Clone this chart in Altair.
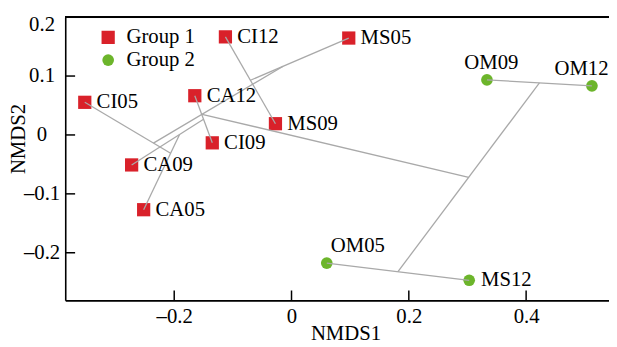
import altair as alt
import pandas as pd

# ---- data ----
names = ["CI12", "MS05", "CI05", "CA12", "MS09", "CI09", "CA09", "CA05",
         "OM09", "OM12", "OM05", "MS12"]
nmds1 = [-0.1127, 0.0976, -0.3525, -0.1649, -0.0274, -0.1351, -0.2726, -0.2521,
         0.3332, 0.5122, 0.0601, 0.3029]
nmds2 = [0.1665, 0.1645, 0.0554, 0.0666, 0.0191, -0.0134, -0.0509, -0.1269,
         0.0935, 0.0834, -0.2175, -0.2467]
groups = ["Group 1"] * 8 + ["Group 2"] * 4

# cluster merges (each side is a cluster given by its members)
merges = [
    ("OM09", "OM12"),
    ("OM05", "MS12"),
    ("OM09+OM12", "OM05+MS12"),
    ("CI12", "MS09"),
    ("MS05", "CI12+MS09"),
    ("CA12", "CI09"),
    ("CA09", "CA12+CI09"),
    ("CA05", "CA09+CA12+CI09"),
    ("CI05", "CA05+CA09+CA12+CI09"),
    ("CI05+CA05+CA09+CA12+CI09", "MS05+CI12+MS09"),
    ("CI05+CA05+CA09+CA12+CI09+MS05+CI12+MS09", "OM09+OM12+OM05+MS12"),
]

x_ticks = [-0.2, 0.0, 0.2, 0.4]
y_ticks = [-0.2, -0.1, 0.0, 0.1, 0.2]

# ---- tables ----
pts = pd.DataFrame({"name": names, "x": nmds1, "y": nmds2, "group": groups})
pos = {n: (a, b) for n, a, b in zip(names, nmds1, nmds2)}


def centroid(members):
    m = members.split("+")
    return (sum(pos[k][0] for k in m) / len(m), sum(pos[k][1] for k in m) / len(m))


seg_rows = []
for a, b in merges:
    ca, cb = centroid(a), centroid(b)
    seg_rows.append({"x": ca[0], "y": ca[1], "x2": cb[0], "y2": cb[1]})
segs = pd.DataFrame(seg_rows)
xt = pd.DataFrame({"v": x_ticks})
yt = pd.DataFrame({"v": y_ticks})

FONT = "Liberation Serif"
FS = 21
W, H = 551, 287
XDOM = [-0.3858, 0.5413]
YDOM = [-0.2808, 0.2]
RED = "#d9212a"
GREEN = "#6cb52b"

lab_expr = ("abs(datum.value) < 1e-9 ? '0' : "
            "(datum.value < 0 ? '\u2013' : '') + format(abs(datum.value), '.1f')")

xs = alt.Scale(domain=XDOM, nice=False, zero=False)
ys = alt.Scale(domain=YDOM, nice=False, zero=False)

x_axis = alt.Axis(values=x_ticks, labelExpr=lab_expr, grid=False, ticks=False, tickSize=0,
                  domainColor="black", domainWidth=1.6, labelFont=FONT, labelFontSize=FS,
                  labelColor="black", labelPadding=5, labelBaseline="top",
                  title="NMDS1", titleFont=FONT, titleFontSize=FS, titleFontWeight="normal",
                  titleColor="black", titleX=284, titleY=40, titleBaseline="alphabetic",
                  titleAlign="center")
y_axis = alt.Axis(values=y_ticks, labelExpr=lab_expr, grid=False, ticks=False, tickSize=0,
                  domainColor="black", domainWidth=1.6, labelFont=FONT, labelFontSize=FS,
                  labelColor="black", labelPadding=24, labelAlign="center",
                  labelFlush=True, labelFlushOffset=3,
                  title="NMDS2", titleFont=FONT, titleFontSize=FS, titleFontWeight="normal",
                  titleColor="black", titleX=-41, titleY=123, titleBaseline="alphabetic",
                  titleAlign="center", titleAngle=270)

legend_kw = dict(title=None, orient="none", legendX=33, legendY=10,
                 labelFont=FONT, labelFontSize=FS, labelColor="black",
                 symbolSize=170, labelOffset=8, rowPadding=1, padding=0,
                 symbolStrokeWidth=0, symbolOpacity=1)

points = alt.Chart(pts).mark_point(filled=True, opacity=1, strokeWidth=0).encode(
    x=alt.X("x:Q", scale=xs, axis=x_axis),
    y=alt.Y("y:Q", scale=ys, axis=y_axis),
    color=alt.Color("group:N", scale=alt.Scale(domain=["Group 1", "Group 2"], range=[RED, GREEN]),
                    legend=alt.Legend(**legend_kw)),
    shape=alt.Shape("group:N", scale=alt.Scale(domain=["Group 1", "Group 2"], range=["square", "circle"]),
                    legend=alt.Legend(**legend_kw)),
    size=alt.Size("group:N", scale=alt.Scale(domain=["Group 1", "Group 2"], range=[180, 140]),
                  legend=None),
)

lines = alt.Chart(segs).mark_rule(color="#a9a9a9", strokeWidth=1.3).encode(
    x=alt.X("x:Q", scale=xs),
    y=alt.Y("y:Q", scale=ys),
    x2="x2:Q", y2="y2:Q",
)

above = {"OM09": (4.5, -11), "OM12": (-10.6, -11), "OM05": (31.5, -11)}
right_names = [n for n in names if n not in above]

text_right = alt.Chart(pts).transform_filter(
    alt.FieldOneOfPredicate(field="name", oneOf=right_names)
).mark_text(font=FONT, fontSize=FS, color="black", align="left", baseline="middle", dx=12).encode(
    x=alt.X("x:Q", scale=xs), y=alt.Y("y:Q", scale=ys), text="name:N")

text_layers = [text_right]
for n, (dx, dy) in above.items():
    text_layers.append(
        alt.Chart(pts).transform_filter(alt.datum.name == n).mark_text(
            font=FONT, fontSize=FS, color="black", align="center", baseline="alphabetic",
            dx=dx, dy=dy).encode(x=alt.X("x:Q", scale=xs), y=alt.Y("y:Q", scale=ys), text="name:N"))

xtick_marks = alt.Chart(xt).mark_rule(color="black", strokeWidth=1.5).encode(
    x=alt.X("v:Q", scale=xs), y=alt.value(H), y2=alt.value(H - 10))
ytick_marks = alt.Chart(yt).mark_rule(color="black", strokeWidth=1.5).encode(
    y=alt.Y("v:Q", scale=ys), x=alt.value(0), x2=alt.value(10))
top_line = alt.Chart(xt).mark_rule(color="black", strokeWidth=1.8).encode(
    x=alt.value(0), x2=alt.value(W), y=alt.value(0))

chart = alt.layer(points, lines, xtick_marks, ytick_marks, top_line, *text_layers).properties(
    width=W, height=H,
    autosize=alt.AutoSizeParams(type="none"),
    padding={"left": 58, "top": 7, "right": 0, "bottom": 45},
).configure_view(strokeWidth=0).configure(background="white")

chart.save("out.html", embed_options={"renderer": "svg", "actions": False})
